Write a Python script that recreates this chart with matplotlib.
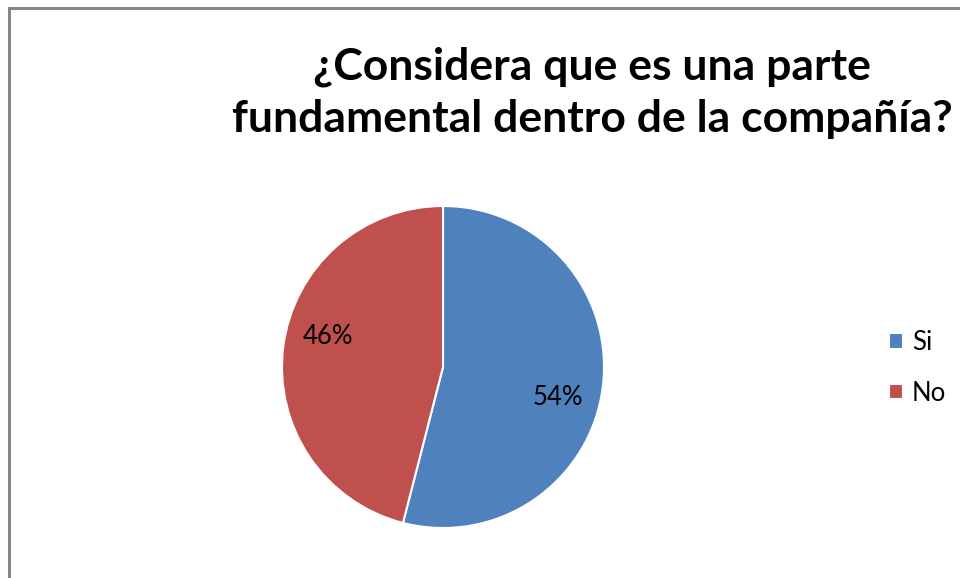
import numpy as np
import matplotlib
matplotlib.use("Agg")
import matplotlib.pyplot as plt
from matplotlib.patches import Rectangle

OUT = "out.png"

labels = ["Si", "No"]
values = [54, 46]
colors = ["#4F81BD", "#C0504D"]
title = "¿Considera que es una parte\nfundamental dentro de la compañía?"

plt.rcParams["font.family"] = ["Lato", "DejaVu Sans"]

W, H = 960, 578
fig = plt.figure(figsize=(W / 100, H / 100), dpi=100)

# chart area border (right and bottom edges run off the image)
fig.patches.append(Rectangle((9 / W, -0.1), 1.2, (H - 8) / H + 0.1, transform=fig.transFigure,
                             fill=False, edgecolor="#868686", lw=2.2))

cx, cy, r = 443, 367, 161
ax = fig.add_axes([(cx - r) / W, (H - cy - r) / H, 2 * r / W, 2 * r / H])
wedges, texts, autotexts = ax.pie(values, colors=colors, startangle=90, counterclock=False,
                                  autopct="%d%%", pctdistance=0.74,
                                  wedgeprops=dict(edgecolor="white", linewidth=1.5),
                                  textprops=dict(fontsize=18.5, color="#000000"))
ax.set_xlim(-1, 1)
ax.set_ylim(-1, 1)
ax.set_aspect("equal")

# Excel-like label placement, rotated a bit clockwise from mid-angle
rot = np.deg2rad(-7.5)
for t in autotexts:
    x, y = t.get_position()
    t.set_position((x * np.cos(rot) - y * np.sin(rot), x * np.sin(rot) + y * np.cos(rot)))

fig.text(592 / W, 1 - 93 / H, title, ha="center", va="center", fontsize=32,
         fontweight="bold", linespacing=1.36)

leg = fig.legend(wedges, labels, loc="center left", bbox_to_anchor=(889 / W, 1 - 368 / H),
                 frameon=False, fontsize=18.5, handlelength=0.55, handleheight=0.55,
                 labelspacing=1.0, handletextpad=0.35, borderpad=0, borderaxespad=0)

fig.savefig(OUT, dpi=100)
